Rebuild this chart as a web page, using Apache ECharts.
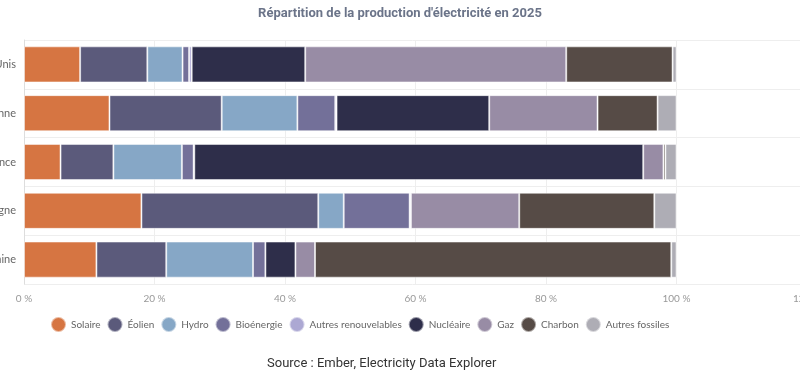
<!DOCTYPE html>
<html>
<head>
<meta charset="utf-8">
<script src="https://cdn.jsdelivr.net/npm/echarts@6/dist/echarts.min.js"></script>
<style>
  html, body { margin: 0; padding: 0; background: #fff; }
  #chart { width: 800px; height: 387px; }
</style>
</head>
<body>
<div id="chart"></div>
<script>
// pays, de haut en bas
const pays = ["États-Unis", "Union européenne", "France", "Allemagne", "Chine"]
const sources = ["Solaire", "Éolien", "Hydro", "Bioénergie", "Autres renouvelables", "Nucléaire", "Gaz", "Charbon", "Autres fossiles"]
const couleurs = ["#d67542", "#5b5a7b", "#86a7c6", "#737099", "#aca8d3", "#2e2e4a", "#988ca5", "#564b46", "#aeadb5"]

// parts en %, même ordre que pays
const solaire = [8.6, 13.1, 5.6, 18.0, 11.1]
const eolien = [10.3, 17.2, 8.1, 27.1, 10.7]
const hydro = [5.4, 11.6, 10.5, 3.9, 13.3]
const bioenergie = [1.0, 5.8, 1.8, 10.1, 1.9]
const autresRenouvelables = [0.4, 0.2, 0.1, 0.2, 0.0]
const nucleaire = [17.4, 23.4, 68.8, 0.0, 4.6]
const gaz = [40.0, 16.6, 3.1, 16.6, 3.0]
const charbon = [16.3, 9.2, 0.3, 20.7, 54.6]
const autresFossiles = [0.6, 2.9, 1.7, 3.4, 0.8]

const valeurs = [solaire, eolien, hydro, bioenergie, autresRenouvelables, nucleaire, gaz, charbon, autresFossiles]

let myChart = echarts.init(document.getElementById("chart"))
myChart.setOption({
  animation: false,
  title: [
    {
      text: "Répartition de la production d'électricité en 2025",
      left: "center",
      top: 2,
      textStyle: { color: "#6b7489", fontSize: 13, fontWeight: "bold", fontFamily: "Roboto" },
    },
    {
      text: "Source : Ember, Electricity Data Explorer",
      left: 262,
      top: 352,
      textStyle: { color: "#333", fontSize: 13, fontWeight: "normal", fontFamily: "Roboto" },
    },
  ],
  legend: {
    top: 311,
    left: 45,
    icon: "circle",
    itemWidth: 15,
    itemHeight: 15,
    itemGap: 6,
    textStyle: { color: "#666", fontSize: 10, fontFamily: "Lato" },
  },
  grid: {
    top: 40,
    left: 24,
    right: -7,
    bottom: 103,
    containLabel: false,
    outerBoundsMode: "none",
  },
  xAxis: {
    type: "value",
    min: 0,
    max: 120,
    interval: 20,
    axisLabel: {
      formatter: "{value} %",
      color: "#999",
      fontSize: 10,
      fontFamily: "Lato",
      margin: 10,
    },
    splitLine: { lineStyle: { color: "#eee" } },
    axisLine: { show: false },
  },
  yAxis: {
    type: "category",
    data: pays,
    inverse: true,
    axisTick: { show: false },
    axisLine: { lineStyle: { color: "#ddd" } },
    splitLine: { show: true, lineStyle: { color: "#eee" } },
    axisLabel: { color: "#666", fontSize: 11, fontFamily: "Lato" },
  },
  series: sources.map((nom, i) => ({
    name: nom,
    type: "bar",
    stack: "total",
    barWidth: "74%",
    data: valeurs[i],
    itemStyle: {
      color: couleurs[i],
      borderColor: "rgba(255,255,255,0.5)",
      borderWidth: 1,
    },
  })),
})
</script>
</body>
</html>
